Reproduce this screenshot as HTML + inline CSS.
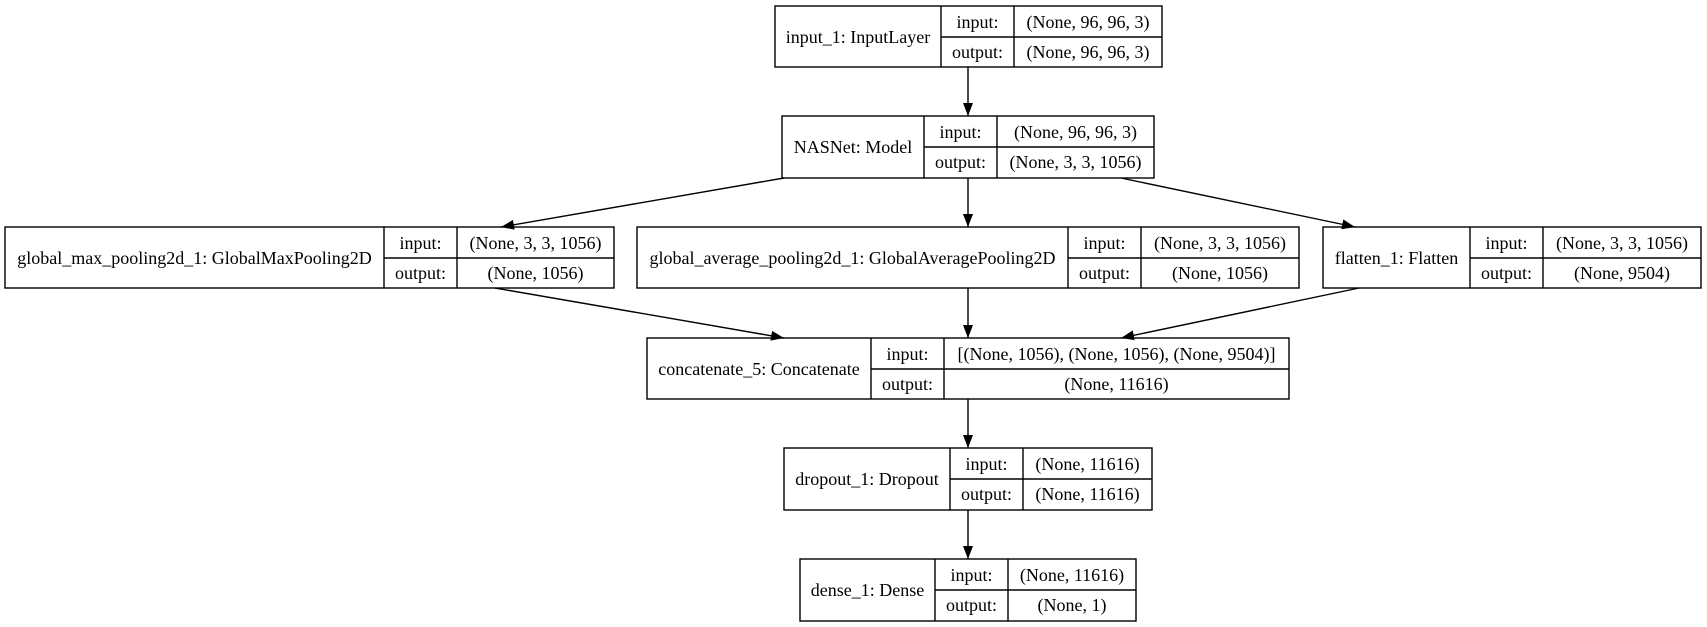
<!DOCTYPE html>
<html><head><meta charset="utf-8"><style>
html,body{margin:0;padding:0;background:#fff;}
svg{display:block;}
text{font-family:"Liberation Serif",serif;font-size:18px;fill:#000;}
</style></head><body>
<svg width="1707" height="627" viewBox="0 0 1707 627" xmlns="http://www.w3.org/2000/svg">
<defs>
<marker id="a" markerWidth="13" markerHeight="10" refX="13" refY="5" orient="auto" markerUnits="userSpaceOnUse">
<path d="M0,0 L13,5 L0,10 Z" fill="#000"/>
</marker>
</defs>
<g stroke="#000" stroke-width="1.4" fill="none">
<line x1="968" y1="67" x2="968" y2="116" marker-end="url(#a)"/>
<line x1="784" y1="178" x2="501" y2="227" marker-end="url(#a)"/>
<line x1="968" y1="178" x2="968" y2="227" marker-end="url(#a)"/>
<line x1="1121" y1="178" x2="1355" y2="227" marker-end="url(#a)"/>
<line x1="495" y1="288" x2="784" y2="338" marker-end="url(#a)"/>
<line x1="968" y1="288" x2="968" y2="338" marker-end="url(#a)"/>
<line x1="1359" y1="288" x2="1121" y2="338" marker-end="url(#a)"/>
<line x1="968" y1="399" x2="968" y2="448" marker-end="url(#a)"/>
<line x1="968" y1="510" x2="968" y2="559" marker-end="url(#a)"/>
</g>
<g stroke="#000" stroke-width="1.4" fill="none">
<!-- input -->
<rect x="775" y="6" width="387" height="61"/><line x1="941" y1="6" x2="941" y2="67"/><line x1="1014" y1="6" x2="1014" y2="67"/><line x1="941" y1="37" x2="1162" y2="37"/>
<!-- nasnet -->
<rect x="782" y="116" width="372" height="62"/><line x1="924" y1="116" x2="924" y2="178"/><line x1="997" y1="116" x2="997" y2="178"/><line x1="924" y1="147" x2="1154" y2="147"/>
<!-- maxpool -->
<rect x="5" y="227" width="609" height="61"/><line x1="384" y1="227" x2="384" y2="288"/><line x1="457" y1="227" x2="457" y2="288"/><line x1="384" y1="258" x2="614" y2="258"/>
<!-- avg -->
<rect x="637" y="227" width="662" height="61"/><line x1="1068" y1="227" x2="1068" y2="288"/><line x1="1141" y1="227" x2="1141" y2="288"/><line x1="1068" y1="258" x2="1299" y2="258"/>
<!-- flatten -->
<rect x="1323" y="227" width="378" height="61"/><line x1="1470" y1="227" x2="1470" y2="288"/><line x1="1543" y1="227" x2="1543" y2="288"/><line x1="1470" y1="258" x2="1701" y2="258"/>
<!-- concat -->
<rect x="647" y="338" width="642" height="61"/><line x1="871" y1="338" x2="871" y2="399"/><line x1="944" y1="338" x2="944" y2="399"/><line x1="871" y1="369" x2="1289" y2="369"/>
<!-- dropout -->
<rect x="784" y="448" width="368" height="62"/><line x1="950" y1="448" x2="950" y2="510"/><line x1="1023" y1="448" x2="1023" y2="510"/><line x1="950" y1="479" x2="1152" y2="479"/>
<!-- dense -->
<rect x="800" y="559" width="336" height="62"/><line x1="935" y1="559" x2="935" y2="621"/><line x1="1008" y1="559" x2="1008" y2="621"/><line x1="935" y1="590" x2="1136" y2="590"/>
</g>
<g text-anchor="middle">
<text x="858" y="43">input_1: InputLayer</text>
<text x="977.5" y="28">input:</text><text x="977.5" y="58">output:</text>
<text x="1088" y="28">(None, 96, 96, 3)</text><text x="1088" y="58">(None, 96, 96, 3)</text>

<text x="853" y="153">NASNet: Model</text>
<text x="960.5" y="138">input:</text><text x="960.5" y="168">output:</text>
<text x="1075.5" y="138">(None, 96, 96, 3)</text><text x="1075.5" y="168">(None, 3, 3, 1056)</text>

<text x="194.5" y="264">global_max_pooling2d_1: GlobalMaxPooling2D</text>
<text x="420.5" y="249">input:</text><text x="420.5" y="279">output:</text>
<text x="535.5" y="249">(None, 3, 3, 1056)</text><text x="535.5" y="279">(None, 1056)</text>

<text x="852.5" y="264">global_average_pooling2d_1: GlobalAveragePooling2D</text>
<text x="1104.5" y="249">input:</text><text x="1104.5" y="279">output:</text>
<text x="1220" y="249">(None, 3, 3, 1056)</text><text x="1220" y="279">(None, 1056)</text>

<text x="1396.5" y="264">flatten_1: Flatten</text>
<text x="1506.5" y="249">input:</text><text x="1506.5" y="279">output:</text>
<text x="1622" y="249">(None, 3, 3, 1056)</text><text x="1622" y="279">(None, 9504)</text>

<text x="759" y="375">concatenate_5: Concatenate</text>
<text x="907.5" y="360">input:</text><text x="907.5" y="390">output:</text>
<text x="1116.5" y="360">[(None, 1056), (None, 1056), (None, 9504)]</text><text x="1116.5" y="390">(None, 11616)</text>

<text x="867" y="485">dropout_1: Dropout</text>
<text x="986.5" y="470">input:</text><text x="986.5" y="500">output:</text>
<text x="1087.5" y="470">(None, 11616)</text><text x="1087.5" y="500">(None, 11616)</text>

<text x="867.5" y="596">dense_1: Dense</text>
<text x="971.5" y="581">input:</text><text x="971.5" y="611">output:</text>
<text x="1072" y="581">(None, 11616)</text><text x="1072" y="611">(None, 1)</text>
</g>
</svg>
</body></html>
